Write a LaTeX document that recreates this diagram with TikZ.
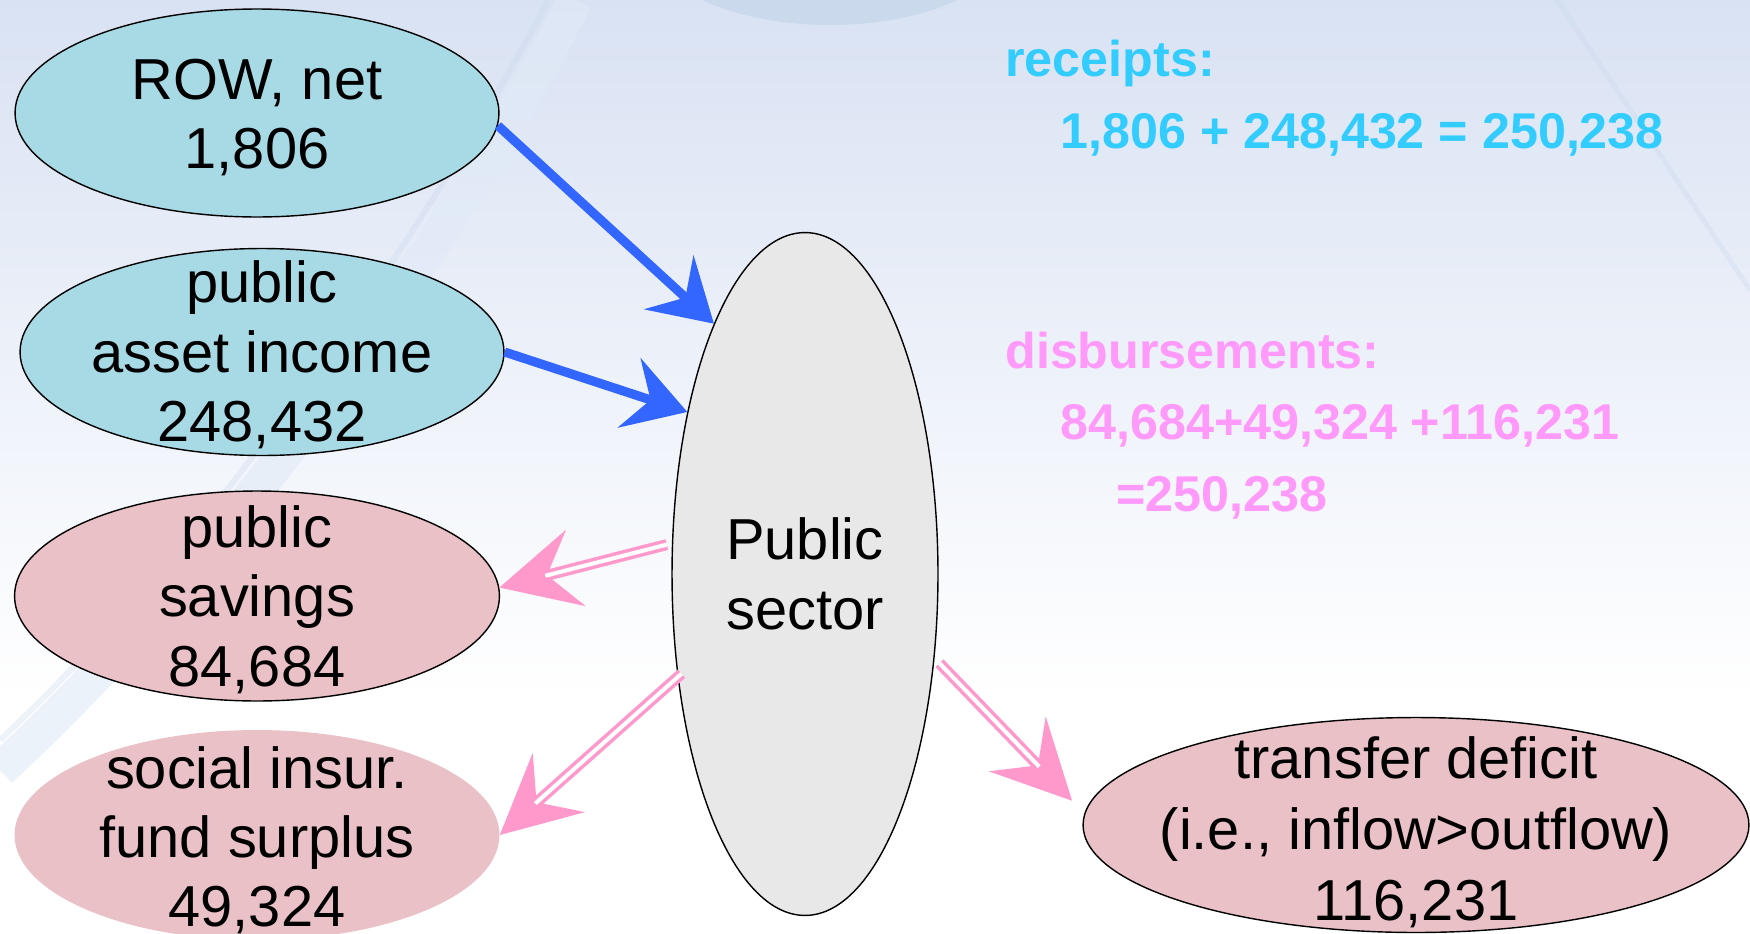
\documentclass[tikz,border=0pt]{standalone}
\usepackage{fontspec}
\setmainfont{Liberation Sans}
\usetikzlibrary{arrows.meta,shapes.geometric}
\definecolor{bgtop}{RGB}{217,226,243}
\definecolor{swoosh}{RGB}{224,234,247}
\definecolor{swedge}{RGB}{200,214,236}
\definecolor{topblob}{RGB}{200,215,236}
\definecolor{cyanfill}{RGB}{168,218,230}
\definecolor{pinkfill}{RGB}{233,193,199}
\definecolor{grayfill}{RGB}{232,232,232}
\definecolor{bluearrow}{RGB}{51,102,255}
\definecolor{pinkarrow}{RGB}{255,153,204}
\definecolor{rectxt}{RGB}{51,204,255}
\definecolor{distxt}{RGB}{255,153,250}
\begin{document}
\begin{tikzpicture}[x=0.02cm,y=-0.02cm,
  nodetext/.style={font=\fontsize{32.9pt}{39.5pt}\selectfont, align=center, text=black, inner sep=0pt},
  blob/.style={ellipse, inner sep=0pt},
  inflow/.style={blob, draw=black, line width=0.8pt, fill=cyanfill},
  outflow/.style={blob, draw=black, line width=0.8pt, fill=pinkfill},
  sumtext/.style={font=\fontsize{28.6pt}{34pt}\selectfont\bfseries, anchor=base west, inner sep=0pt},
  bluearr/.style={draw=bluearrow, line width=5.2pt,
     -{Stealth[length=35pt,width=42pt,inset=13pt,line width=0pt,fill=bluearrow]}},
  pinkarr/.style={draw=pinkarrow, line width=6.3pt,
     -{Stealth[length=45pt,width=45pt,inset=17pt,line width=0pt,fill=pinkarrow]}},
  pinkgap/.style={draw=white, line width=2.3pt}
]
\useasboundingbox (0,0) rectangle (1750,933);
% background
\fill[white] (0,0) rectangle (1750,933);
\shade[top color=bgtop, bottom color=white] (0,0) rectangle (1750,700);
\fill[topblob, opacity=0.8] (830,-60) ellipse [x radius=180, y radius=85];
\draw[swoosh, line width=0.7cm, opacity=0.6] (575,0) .. controls (480,190) and (260,530) .. (0,770);
\draw[swedge, line width=0.12cm, opacity=0.3] (548,0) .. controls (450,190) and (235,520) .. (0,740);
\draw[swedge, line width=0.1cm, opacity=0.3] (1557,0) -- (1750,290);

% shapes
\node[inflow, minimum width=9.68cm, minimum height=4.16cm] (row) at (257,113) {};
\node[inflow, minimum width=9.68cm, minimum height=4.14cm] (asset) at (262,352) {};
\node[outflow, minimum width=9.7cm, minimum height=4.2cm] (sav) at (257,596) {};
\node[blob, fill=pinkfill, minimum width=9.7cm, minimum height=4.2cm] (soc) at (257,835) {};
\node[blob, draw=black, line width=0.8pt, fill=grayfill, minimum width=5.32cm, minimum height=13.66cm] (ps) at (805,574) {};
\node[outflow, minimum width=13.32cm, minimum height=4.3cm] (tr) at (1416,825) {};

% texts in shapes
\node[nodetext, yshift=-2.5pt] (rowt) at (row.center) {ROW, net\\1,806};
\node[nodetext, yshift=-1.6pt] (assett) at (asset.center) {public\\asset income\\248,432};
\node[nodetext, yshift=-2pt] (savt) at (sav.center) {public\\savings\\84,684};
\node[nodetext, yshift=-3pt] (soct) at (soc.center) {social insur.\\fund surplus\\49,324};
\node[nodetext] (pst) at (ps.center) {Public\\sector};
\node[nodetext, yshift=-4pt, font=\fontsize{32.9pt}{40.5pt}\selectfont] (trt) at (tr.center) {transfer deficit\\(i.e., inflow>outflow)\\116,231};

% text
\node[sumtext, text=rectxt] (rec) at (1005,76) {receipts:};
\node[sumtext, text=rectxt] (recsum) at (1060,148) {1,806 + 248,432 = 250,238};
\node[sumtext, text=distxt] (dis) at (1005,368) {disbursements:};
\node[sumtext, text=distxt] (dissum) at (1060,439) {84,684+49,324 +116,231};
\node[sumtext, text=distxt] (distot) at (1116,511) {=250,238};

% inflow arrows
\draw[bluearr] (row.-3) -- (ps.110);
\draw[bluearr] (asset.east) -- (ps.126);

% outflow arrows (double lines)
\draw[pinkarr, shorten <=3pt] (ps.167) -- (sav.2);
\draw[pinkgap, shorten <=3pt, shorten >=27pt] (ps.167) -- (sav.2);
\draw[pinkarr, shorten <=-3pt] (ps.219) -- (soc.east);
\draw[pinkgap, shorten <=-3pt, shorten >=27pt] (ps.219) -- (soc.east);
\draw[pinkarr, shorten <=4pt, shorten >=10pt] (ps.-33) -- (tr.178);
\draw[pinkgap, shorten <=4pt, shorten >=37pt] (ps.-33) -- (tr.178);
\end{tikzpicture}
\end{document}
